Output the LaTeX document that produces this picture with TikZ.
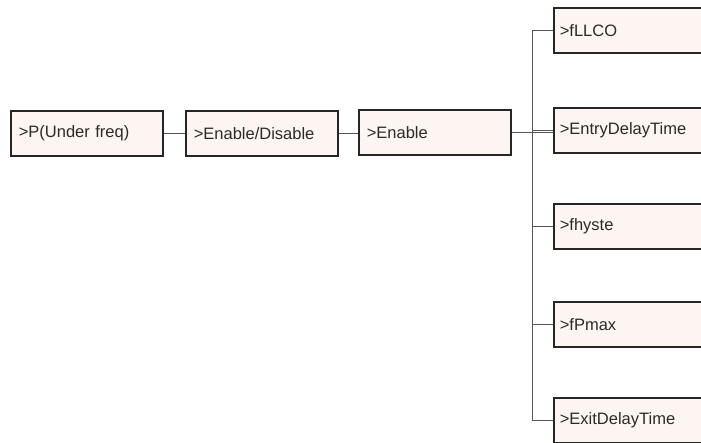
\documentclass[tikz,border=0pt]{standalone}
\usepackage{fontspec}
\setmainfont{Liberation Sans}
\definecolor{boxfill}{HTML}{FDF5F2}
\definecolor{boxborder}{HTML}{262626}
\definecolor{linecol}{HTML}{555555}
\definecolor{textcol}{HTML}{2A2A2A}
\begin{document}
\begin{tikzpicture}[x=1pt,y=-1pt,
 box/.style={draw=boxborder, line width=1.6pt, fill=boxfill, minimum height=45pt, text width=136pt, inner xsep=8pt, align=left, anchor=north west, font=\fontsize{16.5}{19}\selectfont, text=textcol},
 rbox/.style={box, text width=200pt, inner xsep=6pt},
 conn/.style={draw=linecol, line width=1pt}]
\useasboundingbox (0,0) rectangle (701,443);
\clip (0,0) rectangle (701,443);
\node[box] (b1) at (10,110) {>P(Under freq)};
\node[box] (b2) at (185,110) {>Enable/Disable};
\node[box] (b3) at (358,109) {>Enable};
\node[rbox] (r1) at (553,7) {>fLLCO};
\node[rbox] (r2) at (553,107) {>EntryDelayTime};
\node[rbox] (r3) at (553,203) {>fhyste};
\node[rbox] (r4) at (553,301) {>fPmax};
\node[rbox] (r5) at (553,397) {>ExitDelayTime};
\path (r1.west) ++(-21,0) coordinate (bt);
\path (r5.west) ++(-21,0) coordinate (bb);
\draw[conn] (b1.east) -- (b1.east -| b2.west);
\draw[conn] (b2.east) -- (b2.east -| b3.west);
\draw[conn] (b3.east) -- (b3.east -| r2.west);
\draw[conn] (bt) -- (bb);
\foreach \r in {r1,r2,r3,r4,r5} \draw[conn] (\r.west -| bt) -- (\r.west);
\end{tikzpicture}
\end{document}
